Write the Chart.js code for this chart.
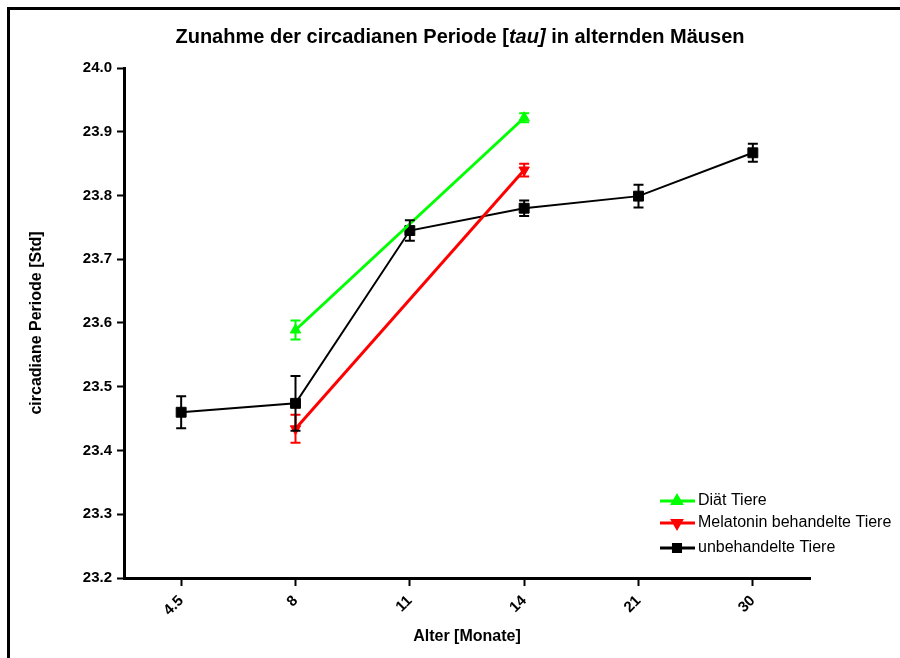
<!DOCTYPE html>
<html>
<head>
<meta charset="utf-8">
<script src="https://cdn.jsdelivr.net/npm/chart.js@4/dist/chart.umd.min.js"></script>
<style>
	html, body { margin: 0; padding: 0; background: #fff; }
	#wrap { position: relative; width: 900px; height: 658px; }
	#frame { position: absolute; left: 7px; top: 7px; right: 0; bottom: 0; border-left: 3px solid #000; border-top: 3px solid #000; }
	#title { position: absolute; left: 0; width: 920px; top: 25px; text-align: center; font: bold 20px 'Liberation Sans', Arial, sans-serif; color: #000; }
	canvas { position: absolute; left: 0; top: 0; }
</style>
</head>
<body>
<div id="wrap">
	<div id="frame"></div>
	<canvas id="chart" width="900" height="658"></canvas>
	<div id="title">Zunahme der circadianen Periode [<i>tau]</i> in alternden Mäusen</div>
</div>
<script>
/*--------------------------------------------------------------------------------------------------------------------*/

const ageLabels = ['4.5', '8', '11', '14', '21', '30'];

const dietValues = [null, 23.589, null, 23.922, null, null];
const dietErrors = [null, 0.015, null, 0.007, null, null];

const melatoninValues = [null, 23.434, null, 23.840, null, null];
const melatoninErrors = [null, 0.022, null, 0.010, null, null];

const untreatedValues = [23.460, 23.474, 23.745, 23.780, 23.799, 23.867];
const untreatedErrors = [0.025, 0.043, 0.016, 0.012, 0.018, 0.014];

const yTicks = [23.2, 23.3, 23.4, 23.5, 23.6, 23.7, 23.8, 23.9, 24.0];

const FONT = "'Liberation Sans', Arial, sans-serif";

/*--------------------------------------------------------------------------------------------------------------------*/

const errorBars = {
	id: 'errorBars',
	afterDatasetsDraw: function(chart)
	{
		const ctx = chart.ctx;
		const y = chart.scales.y;

		chart.data.datasets.forEach((ds, i) => {
			const meta = chart.getDatasetMeta(i);
			ctx.save();
			ctx.strokeStyle = ds.borderColor;
			ctx.lineWidth = 2;
			meta.data.forEach((pt, j) => {
				const v = ds.data[j];
				const e = ds.errors[j];
				if(v === null || e === null) return;
				const x = pt.x;
				const y1 = y.getPixelForValue(v - e);
				const y2 = y.getPixelForValue(v + e);
				ctx.beginPath();
				ctx.moveTo(x, y1); ctx.lineTo(x, y2);
				ctx.moveTo(x - 5, y1); ctx.lineTo(x + 5, y1);
				ctx.moveTo(x - 5, y2); ctx.lineTo(x + 5, y2);
				ctx.stroke();
			});
			ctx.restore();
		});
	}
};

/*--------------------------------------------------------------------------------------------------------------------*/

const innerLegend = {
	id: 'innerLegend',
	afterDraw: function(chart)
	{
		const ctx = chart.ctx;
		let y0 = 501;
		const rows = [22, 25, 0];

		ctx.save();
		chart.data.datasets.forEach((ds, i) => {
			ctx.strokeStyle = ds.borderColor;
			ctx.lineWidth = 3;
			ctx.beginPath();
			ctx.moveTo(660, y0); ctx.lineTo(695, y0);
			ctx.stroke();
			ctx.fillStyle = ds.borderColor;
			Chart.helpers.drawPoint(ctx, {
				pointStyle: ds.pointStyle, rotation: ds.pointRotation || 0, borderWidth: 1, radius: 5
			}, 677, y0);
			ctx.fillStyle = '#000';
			ctx.font = '16px ' + FONT;
			ctx.textBaseline = 'middle';
			ctx.fillText(ds.label, 698, y0);
			y0 += rows[i];
		});
		ctx.restore();
	}
};

/*--------------------------------------------------------------------------------------------------------------------*/

function series(label, values, errors, color, style, rotation, width, radius)
{
	return {
		label: label,
		data: values,
		errors: errors,
		borderColor: color,
		backgroundColor: color,
		borderWidth: width,
		pointStyle: style,
		pointRotation: rotation,
		pointRadius: radius,
		pointHoverRadius: radius,
		pointBorderWidth: 1,
		spanGaps: true,
		tension: 0,
	};
}

/*--------------------------------------------------------------------------------------------------------------------*/

new Chart(document.getElementById('chart').getContext('2d'), {
	type: 'line',
	data: {
		labels: ageLabels,
		datasets: [
			series('Diät Tiere', dietValues, dietErrors, '#00FF00', 'triangle', 0, 3, 6),
			series('Melatonin behandelte Tiere', melatoninValues, melatoninErrors, '#FF0000', 'triangle', 180, 3, 6),
			series('unbehandelte Tiere', untreatedValues, untreatedErrors, '#000000', 'rect', 0, 2, 7),
		],
	},
	options: {
		responsive: false,
		animation: false,
		layout: {
			padding: { left: 0, top: 68, right: 90, bottom: 0 },
		},
		plugins: {
			legend: { display: false },
			title: { display: false },
			tooltip: { enabled: false },
		},
		scales: {
			x: {
				type: 'category',
				offset: true,
				afterFit: (s) => { s.height = 80; },
				border: { display: true, color: '#000', width: 3 },
				grid: { drawOnChartArea: false, offset: false, tickLength: 8, tickWidth: 2, tickColor: '#000' },
				ticks: {
					color: '#000',
					font: { family: FONT, size: 15, weight: 'bold' },
					minRotation: 45,
					maxRotation: 45,
					padding: 6,
				},
				title: {
					display: true,
					text: 'Alter [Monate]',
					color: '#000',
					font: { family: FONT, size: 16, weight: 'bold' },
					padding: { top: 0, bottom: 12 },
				},
			},
			y: {
				min: yTicks[0],
				max: yTicks[yTicks.length - 1],
				afterFit: (s) => { s.width = 124; },
				afterBuildTicks: (s) => { s.ticks = yTicks.map((v) => ({ value: v })); },
				border: { display: true, color: '#000', width: 3 },
				grid: { drawOnChartArea: false, tickLength: 7, tickWidth: 2, tickColor: '#000' },
				ticks: {
					color: '#000',
					font: { family: FONT, size: 15, weight: 'bold' },
					padding: 5,
					callback: (v) => Number(v).toFixed(1),
				},
				title: {
					display: true,
					text: 'circadiane Periode [Std]',
					color: '#000',
					font: { family: FONT, size: 16, weight: 'bold' },
					padding: { top: 27, bottom: 0 },
				},
			},
		},
	},
	plugins: [errorBars, innerLegend],
});

/*--------------------------------------------------------------------------------------------------------------------*/
</script>
</body>
</html>
